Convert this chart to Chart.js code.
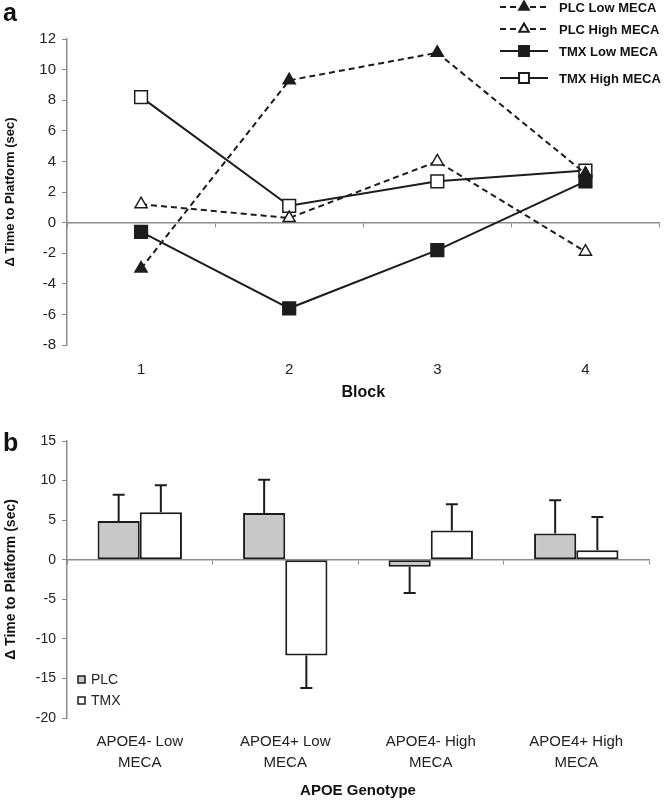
<!DOCTYPE html>
<html>
<head>
<meta charset="utf-8">
<script src="https://cdn.jsdelivr.net/npm/chart.js@4"></script>
<style>
  body { margin: 0; background: #fff; }
  #wrap { position: relative; width: 670px; height: 803px; font-family: "Liberation Sans", Arial, sans-serif; }
  .panel { position: absolute; left: 0; }
  #boxA { top: 0; }
  #boxB { top: 410px; }
  .tag { position: absolute; left: 3px; font-weight: bold; font-size: 25px; color: #111; line-height: 1; }
</style>
</head>
<body>
<div id="wrap">
  <div class="panel" id="boxA"><canvas id="lineChart" width="670" height="410"></canvas></div>
  <div class="panel" id="boxB"><canvas id="barChart" width="670" height="393"></canvas></div>
  <div class="tag" style="top:0px">a</div>
  <div class="tag" style="top:430px">b</div>
</div>
<script>
// panel a: change in time to platform by block
const blocks = ["1", "2", "3", "4"];
const plcLow = [-3.0, 9.3, 11.1, 3.2];
const plcHigh = [1.2, 0.3, 4.0, -1.9];
const tmxLow = [-0.6, -5.6, -1.8, 2.7];
const tmxHigh = [8.2, 1.1, 2.7, 3.4];

// panel b: by APOE genotype, mean and SEM
const genotypes = [["APOE4- Low", "MECA"], ["APOE4+ Low", "MECA"], ["APOE4- High", "MECA"], ["APOE4+ High", "MECA"]];
const plcMeans = [4.9, 5.9, -0.9, 3.3];
const plcErr = [3.3, 4.2, 3.3, 4.2];
const tmxMeans = [6.0, -12.1, 3.7, 1.2];
const tmxErr = [3.4, 4.1, 3.3, 4.2];

const ink = "#1c1c1c";
const axisGray = "#8c8c8c";
Chart.defaults.font.family = '"Liberation Sans", Arial, sans-serif';
Chart.defaults.color = "#222";

// legend for panel a, drawn over the top right corner
const lineLegend = {
    id: "lineLegend",
    afterDraw(chart) {
        const ctx = chart.ctx;
        const rows = [7, 29, 51, 78];
        ctx.save();
        chart.data.datasets.forEach(function (ds, i) {
            const y = rows[i];
            ctx.strokeStyle = ink;
            ctx.lineWidth = 2;
            ctx.setLineDash(ds.borderDash || []);
            ctx.beginPath();
            ctx.moveTo(500, y);
            ctx.lineTo(548, y);
            ctx.stroke();
            ctx.setLineDash([]);
            ctx.fillStyle = ds.pointBackgroundColor;
            ctx.strokeStyle = ink;
            Chart.helpers.drawPoint(ctx, {
                pointStyle: ds.pointStyle,
                radius: ds.pointStyle === "rect" ? 7 : 5.5,
                rotation: 0,
                borderWidth: 1.5
            }, 524, y);
            ctx.fillStyle = "#111";
            ctx.font = 'bold 13px "Liberation Sans", Arial, sans-serif';
            ctx.textBaseline = "middle";
            ctx.fillText(ds.label, 559, y + 1);
        });
        ctx.restore();
    }
};

new Chart(document.getElementById("lineChart"), {
    type: "line",
    data: {
        labels: blocks,
        datasets: [{
            label: "PLC Low MECA",
            data: plcLow,
            borderDash: [6, 4],
            pointStyle: "triangle",
            pointBackgroundColor: ink
        }, {
            label: "PLC High MECA",
            data: plcHigh,
            borderDash: [6, 4],
            pointStyle: "triangle",
            pointBackgroundColor: "#fff"
        }, {
            label: "TMX Low MECA",
            data: tmxLow,
            pointStyle: "rect",
            pointBackgroundColor: ink
        }, {
            label: "TMX High MECA",
            data: tmxHigh,
            pointStyle: "rect",
            pointBackgroundColor: "#fff"
        }].map(function (ds) {
            return Object.assign({
                borderColor: ink,
                borderWidth: 2,
                pointBorderColor: ink,
                pointBorderWidth: 1.5,
                pointRadius: ds.pointStyle === "rect" ? 9 : 7,
                tension: 0,
                fill: false
            }, ds);
        })
    },
    options: {
        responsive: false,
        animation: false,
        events: [],
        layout: { padding: { top: 39, right: 3, left: 0, bottom: 0 } },
        plugins: { legend: { display: false }, tooltip: { enabled: false } },
        scales: {
            x: {
                offset: true,
                grid: { display: false, drawTicks: false },
                border: { display: false },
                ticks: { font: { size: 15 }, padding: 16 },
                title: { display: true, text: "Block", font: { size: 16, weight: "bold" }, color: "#111", padding: { top: 0, bottom: 8 } },
                afterFit: function (s) { s.height = 65; }
            },
            x0: {
                type: "category",
                position: { y: 0 },
                offset: true,
                grid: { offset: true, drawOnChartArea: false, tickLength: 4, color: axisGray },
                border: { color: axisGray, width: 1.5 },
                ticks: { display: false }
            },
            y: {
                min: -8,
                max: 12,
                ticks: { stepSize: 2, font: { size: 15 }, padding: 6 },
                grid: { drawOnChartArea: false, tickLength: 5, color: axisGray },
                border: { color: axisGray, width: 1.5 },
                title: { display: true, text: "Δ Time to Platform (sec)", font: { size: 13, weight: "bold" }, color: "#111", padding: { top: 3 } },
                afterFit: function (s) { s.width = 67; }
            }
        }
    },
    plugins: [lineLegend]
});

// one-sided error bars, pointing away from zero
const errorBars = {
    id: "errorBars",
    afterDatasetsDraw(chart) {
        const ctx = chart.ctx;
        const yScale = chart.scales.y;
        ctx.save();
        ctx.strokeStyle = ink;
        ctx.lineWidth = 2;
        chart.data.datasets.forEach(function (ds, di) {
            chart.getDatasetMeta(di).data.forEach(function (bar, i) {
                const v = ds.data[i];
                const end = yScale.getPixelForValue(v + (v < 0 ? -ds.errors[i] : ds.errors[i]));
                ctx.beginPath();
                ctx.moveTo(bar.x, bar.y);
                ctx.lineTo(bar.x, end);
                ctx.moveTo(bar.x - 6, end);
                ctx.lineTo(bar.x + 6, end);
                ctx.stroke();
            });
        });
        ctx.restore();
    }
};

// small legend inside panel b, lower left
const barLegend = {
    id: "barLegend",
    afterDraw(chart) {
        const ctx = chart.ctx;
        const rows = [270, 291];
        ctx.save();
        chart.data.datasets.forEach(function (ds, i) {
            const y = rows[i];
            ctx.fillStyle = ds.backgroundColor;
            ctx.fillRect(78, y - 4, 7, 7);
            ctx.strokeStyle = ink;
            ctx.lineWidth = 1.5;
            ctx.strokeRect(78, y - 4, 7, 7);
            ctx.fillStyle = "#222";
            ctx.font = '14px "Liberation Sans", Arial, sans-serif';
            ctx.textBaseline = "middle";
            ctx.fillText(ds.label, 91, y);
        });
        ctx.restore();
    }
};

new Chart(document.getElementById("barChart"), {
    type: "bar",
    data: {
        labels: genotypes,
        datasets: [{
            label: "PLC",
            data: plcMeans,
            errors: plcErr,
            backgroundColor: "#c8c8c8"
        }, {
            label: "TMX",
            data: tmxMeans,
            errors: tmxErr,
            backgroundColor: "#ffffff"
        }].map(function (ds) {
            return Object.assign({
                borderColor: ink,
                borderWidth: 2,
                borderSkipped: false,
                categoryPercentage: 0.58,
                barPercentage: 1.0
            }, ds);
        })
    },
    options: {
        responsive: false,
        animation: false,
        events: [],
        layout: { padding: { top: 31, right: 21, left: 0, bottom: 0 } },
        plugins: { legend: { display: false }, tooltip: { enabled: false } },
        scales: {
            x: {
                grid: { display: false, drawTicks: false },
                border: { display: false },
                ticks: { font: { size: 15, lineHeight: 1.35 }, padding: 14, maxRotation: 0 },
                title: { display: true, text: "APOE Genotype", font: { size: 15, weight: "bold" }, color: "#111", padding: { top: 0, bottom: 3 } },
                afterFit: function (s) { s.height = 85; }
            },
            x0: {
                type: "category",
                position: { y: 0 },
                offset: true,
                grid: { offset: true, drawOnChartArea: false, tickLength: 4, color: axisGray },
                border: { color: axisGray, width: 1.5 },
                ticks: { display: false }
            },
            y: {
                min: -20,
                max: 15,
                ticks: { stepSize: 5, font: { size: 14 }, padding: 6 },
                grid: { drawOnChartArea: false, tickLength: 5, color: axisGray },
                border: { color: axisGray, width: 1.5 },
                title: { display: true, text: "Δ Time to Platform (sec)", font: { size: 14, weight: "bold" }, color: "#111", padding: { top: 3 } },
                afterFit: function (s) { s.width = 67; }
            }
        }
    },
    plugins: [errorBars, barLegend]
});
</script>
</body>
</html>
